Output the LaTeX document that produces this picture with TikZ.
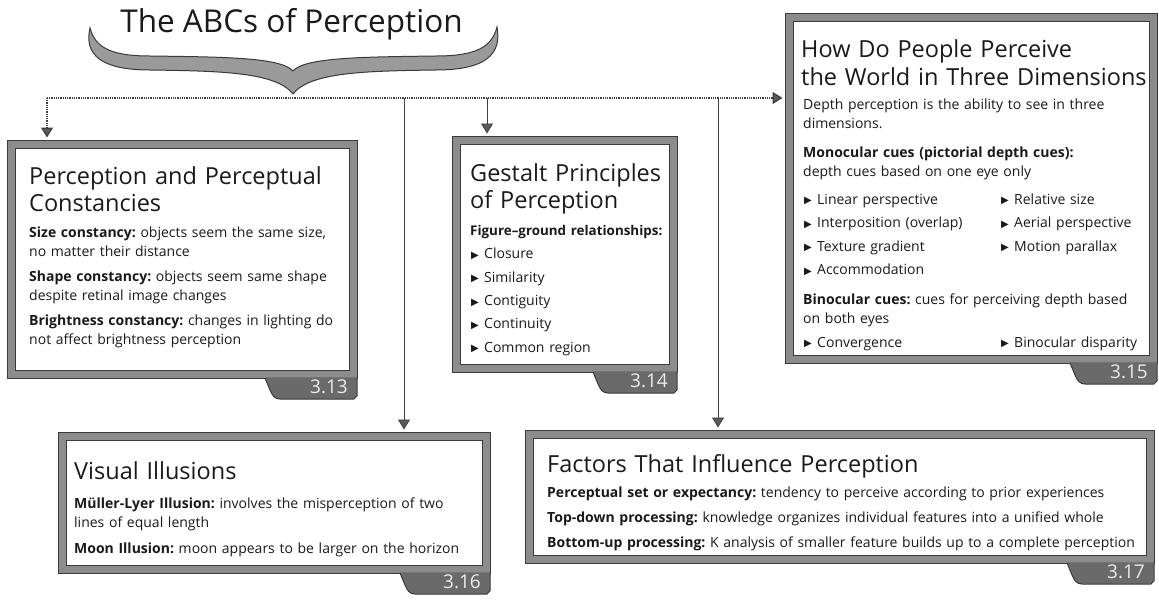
\documentclass[tikz,border=0pt]{standalone}
\usepackage{fontspec}
\setmainfont{Open Sans}
\newfontfamily\symf{DejaVu Sans}
\usetikzlibrary{arrows.meta,calc}
\frenchspacing

\definecolor{framegray}{HTML}{8C8C8C}
\definecolor{framedark}{HTML}{3A3A3A}
\definecolor{tabgray}{HTML}{6A6A6A}
\definecolor{bracegray}{HTML}{9A9A9A}
\definecolor{ink}{HTML}{1A1A1A}
\definecolor{linegray}{HTML}{404040}
\definecolor{tipgray}{HTML}{5A5A5A}

% small triangular bullet
\newcommand\bul{\makebox[14pt][l]{\hspace{1pt}\raisebox{0.4pt}{\symf\fontsize{10}{10}\selectfont ▶}}}
% fixed first-line heights so that text nodes sit on known baselines
\newcommand\tstrut{\rule{0pt}{20pt}}
\newcommand\bstrut{\rule{0pt}{14pt}}

% framed panel: name, x, y, width, height, tab width, label
\newcommand\panel[7]{%
  \node[frame, anchor=north west, minimum width=#4pt, minimum height=#5pt] (#1) at (#2,#3) {};
  \draw[innerbox] ($(#1.north west)+(8,8)$) rectangle ($(#1.south east)+(-8,-8)$);
  \begin{scope}[shift={(#1.south east)}]
    \fill[tabgray] (-#6,-0.6) -- (-#6+5,12) .. controls (-#6+7.5,18) and (-#6+10,21) .. (-#6+15,21) -- (-3,21) -- (0,18) -- (0,-0.6) -- cycle;
    \draw[framedark, line width=1pt] (-#6,0) -- (-#6+5,12) .. controls (-#6+7.5,18) and (-#6+10,21) .. (-#6+15,21) -- (-3,21) -- (0,18) -- (0,0);
  \end{scope}
  \node[tablabel, anchor=base east] (#1n) at ($(#1.south east)+(-9,15)$) {#7};
}

\tikzset{
  frame/.style={rectangle, draw=framedark, fill=framegray, line width=1pt, inner sep=0pt, outer sep=0pt},
  innerbox/.style={draw=framedark, fill=white, line width=0.8pt},
  tablabel/.style={text=white!92!black, font=\fontsize{19}{19}\selectfont, inner sep=0pt},
  maintitle/.style={text=ink, font=\fontsize{31.5}{31.5}\selectfont, inner sep=0pt},
  ttl/.style={text=ink, anchor=north west, inner sep=0pt, text width=380pt, align=left,
    font=\fontsize{23.5}{27.5}\selectfont},
  body/.style={text=ink, anchor=north west, inner sep=0pt, text width=640pt, align=left,
    font=\fontsize{14}{19}\selectfont},
  bus/.style={draw=linegray, line width=1.3pt, dash pattern=on 1pt off 0.8pt},
  drop/.style={draw=linegray, line width=0.8pt},
  arrowend/.style={-{Triangle[width=12pt,length=10pt,fill=tipgray]}, shorten >=2.5pt},
}

\begin{document}
\begin{tikzpicture}[x=1pt, y=-1pt]
\useasboundingbox (0,0) rectangle (1159,603);

% heading and brace
\node[maintitle, anchor=base] (title) at (291.5,32) {The ABCs of Perception};
\draw[fill=bracegray, draw=framedark, line width=1pt]
  (90,28) .. controls (84,54) and (100,70) .. (150,70)
  .. controls (220,71) and (276,72) .. (293,94)
  .. controls (310,72) and (366,71) .. (436,70)
  .. controls (486,70) and (502,54) .. (497,27)
  .. controls (492,46) and (478,56) .. (436,56)
  .. controls (366,57) and (305,57) .. (293,71)
  .. controls (281,57) and (220,57) .. (150,56)
  .. controls (108,56) and (95,46) .. (90,28) -- cycle;

% panels
\panel{b313}{7}{140}{350}{238}{92}{3.13}
\panel{b314}{452}{136}{225}{236}{84}{3.14}
\panel{b315}{785}{13}{372}{350}{87}{3.15}
\panel{b316}{58}{432}{432}{141}{90}{3.16}
\panel{b317}{525}{430}{629}{133}{87}{3.17}

% branching connectors
\coordinate (busL) at (47,98);
\coordinate (d314) at (487,98);
\coordinate (d316) at (404,98);
\coordinate (d317) at (718,98);
\draw[bus, arrowend] (busL) -- (busL -| b315.west);
\draw[bus, arrowend] (busL) -- (busL |- b313.north);
\draw[drop, arrowend] (d314) -- (d314 |- b314.north);
\draw[drop, arrowend] (d316) -- (d316 |- b316.north);
\draw[drop, arrowend] (d317) -- (d317 |- b317.north);

% 3.13
\node[ttl] (t313) at (29,164) {\tstrut Perception and Perceptual\\Constancies};
\node[body] (x313) at (29,223) {\bstrut\textbf{Size constancy:} objects seem the same size,\\
  no matter their distance\\[6pt]
  \textbf{Shape constancy:} objects seem same shape\\
  despite retinal image changes\\[6pt]
  \textbf{Brightness constancy:} changes in lighting do\\
  not affect brightness perception};

% 3.14
\node[ttl] (t314) at (470,161) {\tstrut Gestalt Principles\\of Perception};
\node[body, font=\fontsize{14}{23.4}\selectfont] (x314) at (470,221) {\bstrut{\fontsize{13.4}{23.4}\selectfont\textbf{Figure–ground relationships:}}\\
  \bul Closure\\
  \bul Similarity\\
  \bul Contiguity\\
  \bul Continuity\\
  \bul Common region};

% 3.15
\node[ttl, font=\fontsize{23.5}{28}\selectfont] (t315) at (801,37) {\tstrut How Do People Perceive\\the World in Three Dimensions};
\node[body] (x315) at (803,95) {\bstrut Depth perception is the ability to see in three\\
  dimensions.\\[10pt]
  \textbf{Monocular cues (pictorial depth cues):}\\
  depth cues based on one eye only\\[9pt]
  \makebox[197pt][l]{\bul Linear perspective}\bul Relative size\\[4.4pt]
  \makebox[197pt][l]{\bul Interposition (overlap)}\bul Aerial perspective\\[4.4pt]
  \makebox[197pt][l]{\bul Texture gradient}\bul Motion parallax\\[4.4pt]
  \bul Accommodation\\[10.8pt]
  \textbf{Binocular cues:} cues for perceiving depth based\\
  on both eyes\\[5pt]
  \makebox[197pt][l]{\bul Convergence}\bul Binocular disparity};

% 3.16
\node[ttl] (t316) at (74,459) {\tstrut Visual Illusions};
\node[body] (x316) at (74,494) {\bstrut\textbf{Müller-Lyer Illusion:} involves the misperception of two\\
  lines of equal length\\[7pt]
  \textbf{Moon Illusion:} moon appears to be larger on the horizon};

% 3.17
\node[ttl] (t317) at (547,452) {\tstrut Factors That Influence Perception};
\node[body, font=\fontsize{14}{25}\selectfont] (x317) at (547,483) {\bstrut\textbf{Perceptual set or expectancy:} tendency to perceive according to prior experiences\\
  \textbf{Top-down processing:} knowledge organizes individual features into a unified whole\\
  \textbf{Bottom-up processing:} K analysis of smaller feature builds up to a complete perception};
\end{tikzpicture}
\end{document}
